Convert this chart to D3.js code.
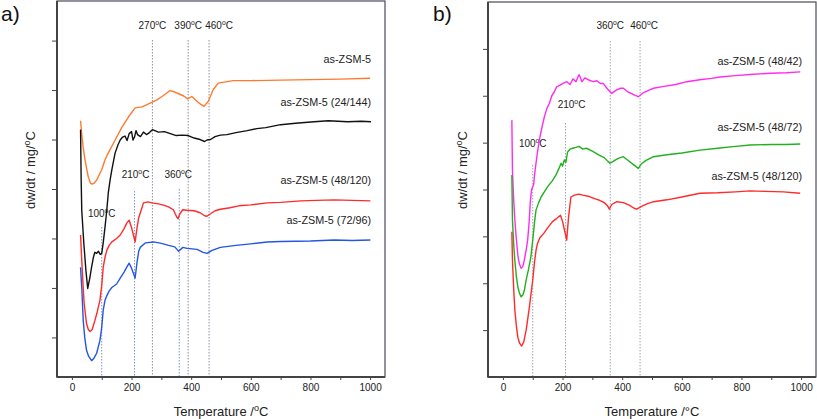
<!DOCTYPE html>
<html><head><meta charset="utf-8">
<script src="https://cdn.jsdelivr.net/npm/d3@7"></script>
<style>
html,body{margin:0;padding:0;background:#fff;}
svg{display:block;font-family:"Liberation Sans",Arial,sans-serif;}
</style></head>
<body>
<svg id="chart" width="817" height="419"></svg>
<script>
// ---------- data ----------
const tempTicks = [0,100,200,300,400,500,600,700,800,900,1000];
const tempLabels = [0,200,400,600,800,1000];
const yTicks = [0,1,2,3,4,5,6];

// panel a
const asZSM5 = [[29,4.38],[33,4.10],[38,3.83],[44,3.59],[50,3.39],[55,3.24],[62,3.12],[68,3.10],[75,3.12],[83,3.18],[100,3.39],[111,3.59],[122,3.73],[145,3.99],[167,4.24],[190,4.46],[212,4.64],[235,4.66],[250,4.70],[268,4.75],[285,4.80],[302,4.87],[316,4.93],[329,4.99],[345,4.96],[360,4.92],[375,4.88],[388,4.82],[402,4.87],[415,4.80],[430,4.72],[443,4.67],[457,4.77],[474,5.01],[491,5.14],[541,5.19],[600,5.19],[700,5.20],[800,5.21],[900,5.22],[1000,5.24]];
const zsm24_144 = [[29,4.20],[31,3.20],[33,2.57],[40,1.90],[47,1.35],[53,0.99],[60,1.20],[66,1.42],[72,1.62],[77,1.72],[83,1.70],[89,1.74],[95,1.68],[100,1.70],[105,1.91],[111,2.23],[117,2.57],[122,2.92],[128,3.18],[134,3.39],[140,3.58],[145,3.73],[155,3.90],[162,3.99],[170,4.05],[178,4.07],[185,3.98],[192,4.12],[200,4.16],[205,3.99],[210,4.05],[215,4.18],[220,4.10],[230,4.06],[240,4.15],[250,4.10],[260,4.14],[270,4.20],[290,4.15],[310,4.16],[330,4.12],[350,4.08],[369,4.09],[390,4.08],[410,4.03],[430,4.00],[445,3.96],[453,3.99],[465,4.00],[480,4.06],[498,4.09],[520,4.10],[550,4.14],[588,4.18],[620,4.22],[650,4.24],[700,4.30],[750,4.33],[812,4.36],[860,4.38],[925,4.36],[970,4.37],[1003,4.36]];
const zsm48_120a = [[29,2.07],[33,1.56],[37,1.10],[41,0.69],[49,0.28],[55,0.16],[61,0.12],[68,0.16],[77,0.34],[85,0.52],[94,0.75],[100,1.05],[105,1.42],[111,1.62],[117,1.76],[125,1.86],[134,1.93],[150,2.00],[162,2.07],[175,2.20],[184,2.31],[192,2.37],[200,2.22],[207,2.05],[212,1.93],[218,2.20],[224,2.42],[229,2.51],[240,2.72],[255,2.74],[268,2.72],[290,2.70],[310,2.67],[324,2.64],[340,2.58],[352,2.43],[356,2.40],[362,2.50],[372,2.58],[386,2.57],[410,2.56],[430,2.52],[445,2.46],[453,2.45],[465,2.50],[480,2.56],[498,2.59],[530,2.62],[560,2.66],[600,2.68],[655,2.72],[700,2.73],[768,2.76],[820,2.77],[880,2.78],[940,2.77],[1001,2.76]];
const zsm72_96 = [[29,1.42],[31,1.20],[33,1.01],[38,0.34],[43,0.00],[49,-0.26],[56,-0.38],[66,-0.47],[74,-0.42],[83,-0.32],[94,-0.06],[100,0.20],[105,0.55],[111,0.75],[117,0.84],[125,0.94],[134,1.01],[150,1.08],[162,1.20],[175,1.32],[184,1.42],[192,1.50],[200,1.40],[207,1.28],[212,1.20],[218,1.50],[224,1.74],[229,1.82],[246,1.91],[274,1.93],[300,1.90],[324,1.86],[345,1.83],[358,1.74],[372,1.82],[386,1.80],[420,1.78],[440,1.72],[453,1.70],[470,1.76],[498,1.82],[550,1.86],[600,1.89],[655,1.93],[700,1.94],[800,1.95],[880,1.97],[940,1.96],[1001,1.97]];

// panel b
const zsm48_42 = [[30,4.48],[32,3.41],[36,2.80],[40,2.35],[45,1.95],[50,1.60],[55,1.42],[61,1.32],[67,1.36],[72,1.50],[78,1.71],[83,1.92],[88,2.30],[92,2.75],[96,2.99],[100,3.06],[103,3.10],[106,3.30],[111,3.56],[116,3.80],[122,4.05],[130,4.30],[139,4.55],[147,4.72],[156,4.84],[164,5.00],[172,5.08],[180,5.19],[190,5.22],[200,5.26],[214,5.30],[225,5.24],[235,5.36],[245,5.30],[255,5.45],[259,5.40],[265,5.30],[275,5.38],[290,5.33],[303,5.30],[315,5.32],[327,5.26],[337,5.26],[350,5.15],[365,5.05],[380,5.12],[395,5.16],[404,5.16],[420,5.08],[440,5.02],[454,4.98],[470,5.06],[490,5.12],[505,5.16],[540,5.20],[580,5.24],[617,5.30],[660,5.34],[700,5.37],[728,5.40],[780,5.43],[840,5.46],[900,5.48],[950,5.49],[997,5.51]];
const zsm48_72 = [[30,3.31],[32,2.35],[36,1.85],[40,1.49],[45,1.15],[50,0.92],[56,0.78],[61,0.71],[67,0.75],[72,0.85],[78,1.07],[86,1.30],[94,1.57],[100,1.92],[106,2.30],[111,2.56],[120,2.72],[128,2.84],[140,2.96],[150,3.06],[165,3.18],[178,3.31],[188,3.45],[195,3.56],[200,3.50],[206,3.63],[211,3.58],[217,3.80],[225,3.86],[234,3.88],[245,3.90],[255,3.92],[268,3.86],[280,3.88],[300,3.82],[324,3.73],[340,3.68],[352,3.60],[359,3.56],[370,3.60],[385,3.66],[404,3.70],[420,3.62],[440,3.52],[454,3.45],[465,3.55],[480,3.62],[505,3.70],[550,3.74],[600,3.78],[661,3.84],[720,3.88],[780,3.92],[829,3.95],[900,3.96],[950,3.96],[997,3.97]];
const zsm48_120b = [[30,2.10],[32,1.49],[36,0.90],[40,0.43],[45,0.10],[50,-0.15],[56,-0.28],[63,-0.34],[70,-0.25],[78,0.00],[89,0.50],[100,1.07],[106,1.45],[111,1.70],[116,1.85],[124,1.97],[139,2.08],[150,2.18],[167,2.32],[180,2.38],[193,2.45],[200,2.32],[207,2.12],[214,1.92],[220,2.40],[228,2.84],[240,2.88],[255,2.90],[268,2.88],[290,2.85],[310,2.80],[324,2.77],[340,2.72],[350,2.66],[357,2.58],[365,2.68],[382,2.74],[404,2.72],[425,2.66],[440,2.60],[449,2.58],[465,2.64],[485,2.70],[505,2.74],[550,2.78],[600,2.84],[661,2.92],[720,2.93],[780,2.95],[829,2.97],[880,2.96],[940,2.95],[997,2.92]];

const seriesNamesA = ["as-ZSM-5","as-ZSM-5 (24/144)","as-ZSM-5 (48/120)","as-ZSM-5 (72/96)"];
const seriesNamesB = ["as-ZSM-5 (48/42)","as-ZSM-5 (48/72)","as-ZSM-5 (48/120)"];
const markersA = [100,210,270,360,390,460];
const markersB = [100,210,360,460];

// ---------- layout / style ----------
const svg = d3.select("#chart");
const bottom = 377;

const panels = [
  {
    tag:"a)", tagX:1, left:57, right:385, top:1, yDomain:[-0.8,6.8], supTitle:true,
    titleY:35,
    series:[
      {data:asZSM5, name:seriesNamesA[0], color:"#ff7a2e", ly:63},
      {data:zsm24_144, name:seriesNamesA[1], color:"#111111", ly:106},
      {data:zsm48_120a, name:seriesNamesA[2], color:"#ff2a2a", ly:184},
      {data:zsm72_96, name:seriesNamesA[3], color:"#2456e0", ly:224}
    ],
    labelRight:371,
    markers:[
      {t:markersA[0], top:227, ly:217, dx:0, color:"#7f93d6"},
      {t:markersA[1], top:191, ly:178, dx:1, color:"#7f93d6"},
      {t:markersA[2], top:40, ly:29, dx:0, color:"#8f8f9f"},
      {t:markersA[3], top:189, ly:178, dx:-1, color:"#7f93d6"},
      {t:markersA[4], top:40, ly:29, dx:0, color:"#8f8f9f"},
      {t:markersA[5], top:40, ly:29, dx:10, color:"#8f8f9f"}
    ]
  },
  {
    tag:"b)", tagX:433, left:488, right:816, top:2, yDomain:[-1,7], supTitle:false,
    titleY:467,
    series:[
      {data:zsm48_42, name:seriesNamesB[0], color:"#ff2bf0", ly:65},
      {data:zsm48_72, name:seriesNamesB[1], color:"#22b01c", ly:131},
      {data:zsm48_120b, name:seriesNamesB[2], color:"#ff2a2a", ly:180}
    ],
    labelRight:802,
    markers:[
      {t:markersB[0], top:165, ly:147, dx:0, color:"#9aa6b8"},
      {t:markersB[1], top:123, ly:108, dx:6, color:"#9aa6b8"},
      {t:markersB[2], top:41, ly:29, dx:0, color:"#9aa6b8"},
      {t:markersB[3], top:41, ly:29, dx:4, color:"#9aa6b8"}
    ]
  }
];

function degText(sel, num, fs){
  sel.append("tspan").text(num);
  sel.append("tspan").attr("font-size", fs*0.68).attr("dy", -fs*0.38).text("o");
  sel.append("tspan").attr("dy", fs*0.38).text("C");
}

panels.forEach(p => {
  const x = d3.scaleLinear().domain([-50,1050]).range([p.left,p.right]);
  const y = d3.scaleLinear().domain(p.yDomain).range([bottom,p.top]);
  const g = svg.append("g");

  // dotted markers
  p.markers.forEach(m => {
    g.append("line").attr("x1",x(m.t)).attr("x2",x(m.t)).attr("y1",m.top).attr("y2",bottom)
      .attr("stroke",m.color).attr("stroke-width",1).attr("stroke-dasharray","1.5,1.5");
    const t = g.append("text").attr("x",x(m.t)+m.dx).attr("y",m.ly)
      .attr("text-anchor","middle").attr("font-size",10).attr("fill","#222");
    degText(t, m.t, 10);
  });

  // lines
  const line = d3.line().x(d=>x(d[0])).y(d=>y(d[1]));
  p.series.forEach(s => {
    g.append("path").datum(s.data).attr("d",line).attr("fill","none")
      .attr("stroke",s.color).attr("stroke-width",1.4).attr("stroke-linejoin","round");
    g.append("text").attr("x",p.labelRight).attr("y",s.ly).attr("text-anchor","end")
      .attr("font-size",10.8).attr("fill","#222").text(s.name);
  });

  // axes
  const xa = g.append("g").attr("transform",`translate(0,${bottom})`)
    .call(d3.axisBottom(x).tickValues(tempTicks).tickSize(3).tickPadding(4)
      .tickFormat(d => tempLabels.includes(d) ? d : ""));
  xa.select(".domain").remove();
  xa.selectAll("line").attr("stroke","#444");
  xa.selectAll("text").attr("font-size",10).attr("fill","#222").attr("font-family","Liberation Sans, Arial, sans-serif");

  const ya = g.append("g").attr("transform",`translate(${p.left},0)`)
    .call(d3.axisLeft(y).tickValues(yTicks).tickSize(5).tickFormat(""));
  ya.select(".domain").remove();
  ya.selectAll("line").attr("stroke","#444");

  // frame
  g.append("rect").attr("x",p.left).attr("y",p.top).attr("width",p.right-p.left).attr("height",bottom-p.top)
    .attr("fill","none").attr("stroke","#4a4a55").attr("stroke-width",1.2);
  g.append("line").attr("x1",p.left).attr("x2",p.left).attr("y1",p.top).attr("y2",bottom+0.6)
    .attr("stroke","#444").attr("stroke-width",2);
  g.append("line").attr("x1",p.left).attr("x2",p.right).attr("y1",bottom).attr("y2",bottom)
    .attr("stroke","#444").attr("stroke-width",2);

  // axis titles
  const xt = g.append("text").attr("x",(p.left+p.right)/2).attr("y",416)
    .attr("text-anchor","middle").attr("font-size",13).attr("fill","#222");
  if (p.supTitle) {
    xt.append("tspan").text("Temperature /");
    xt.append("tspan").attr("font-size",9).attr("dy",-5).text("o");
    xt.append("tspan").attr("dy",5).text("C");
  } else {
    xt.text("Temperature /°C");
  }
  const yt = g.append("text").attr("transform",`translate(${p.titleY},170) rotate(-90)`)
    .attr("text-anchor","middle").attr("font-size",13).attr("fill","#222");
  yt.append("tspan").text("dw/dt / mg/");
  yt.append("tspan").attr("font-size",9).attr("dy",-5).text("o");
  yt.append("tspan").attr("dy",5).text("C");

  // panel tag
  svg.append("text").attr("x",p.tagX).attr("y",21).attr("font-size",21).attr("fill","#111").text(p.tag);
});
</script>
</body></html>
